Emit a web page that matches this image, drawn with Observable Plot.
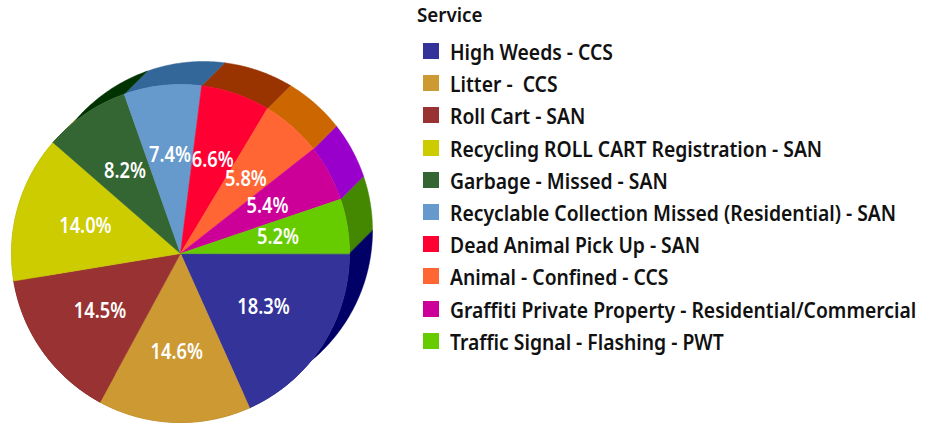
<!DOCTYPE html>
<html>
<head>
<meta charset="utf-8">
<script src="https://cdn.jsdelivr.net/npm/d3@7"></script>
<script src="https://cdn.jsdelivr.net/npm/@observablehq/plot@0.6"></script>
<style>
  html, body { margin: 0; padding: 0; background: #fff; }
  #wrap { position: relative; width: 931px; height: 423px; overflow: hidden; }
  #pie { position: absolute; left: 0; top: 0; }
  #pie svg text { font-family: "Noto Sans", sans-serif; }
  #legend { position: absolute; left: 417px; top: 0; font-family: "Noto Sans", sans-serif; color: #111; }
  #legend .title { font-size: 20px; font-weight: 600; line-height: 20px; margin-top: 5px; height: 30px;
                   transform: scaleX(0.94); transform-origin: 0 50%; }
  #legend .row { display: flex; align-items: center; height: 32.2px; }
  #legend .sw { width: 16px; height: 16px; margin-left: 6px; margin-right: 11px; flex: none; }
  #legend .lab { font-size: 22px; font-weight: 600; white-space: pre; transform: scaleX(0.878); transform-origin: 0 50%; }
</style>
</head>
<body>
<div id="wrap"><div id="pie"></div><div id="legend"></div></div>
<script>
const services = [
  "High Weeds - CCS",
  "Litter -  CCS",
  "Roll Cart - SAN",
  "Recycling ROLL CART Registration - SAN",
  "Garbage - Missed - SAN",
  "Recyclable Collection Missed (Residential) - SAN",
  "Dead Animal Pick Up - SAN",
  "Animal - Confined - CCS",
  "Graffiti Private Property - Residential/Commercial",
  "Traffic Signal - Flashing - PWT"
];
const shares = [18.3, 14.6, 14.5, 14.0, 8.2, 7.4, 6.6, 5.8, 5.4, 5.2];
const labels = ["18.3%", "14.6%", "14.5%", "14.0%", "8.2%", "7.4%", "6.6%", "5.8%", "5.4%", "5.2%"];
const frontColors = ["#333399", "#CC9933", "#993333", "#CCCC00", "#336633", "#6699CC", "#FF0033", "#FF6633", "#CC0099", "#66CC00"];
const sideColors  = ["#000066", "#996600", "#660000", "#999900", "#003300", "#336699", "#993300", "#CC6600", "#9900CC", "#438800"];
const legendTitle = "Service";

// geometry (in units of the pie radius)
const R = 169;                 // radius in px
const cx = 180, cy = 253;      // centre in px
const W = 400, H = 423;
const depth = 23 / R;          // extrusion offset, to the upper right
const labelR = 0.585;

const arcs = d3.pie().sort(null).value(d => d)
  .startAngle(Math.PI / 2).endAngle(Math.PI / 2 + 2 * Math.PI)(shares);

function arcPts(a0, a1, dx, dy) {
  const n = Math.max(2, Math.ceil(Math.abs(a1 - a0) / (Math.PI / 360)));
  const pts = [];
  for (let k = 0; k <= n; k++) {
    const a = a0 + (a1 - a0) * k / n;
    pts.push([Math.sin(a) + dx, Math.cos(a) + dy]);
  }
  return pts;
}

const walls = [], fronts = [], texts = [];
arcs.forEach((a, i) => {
  const f = arcPts(a.startAngle, a.endAngle, 0, 0);
  fronts.push({id: "f" + i, x: 0, y: 0, color: frontColors[i]});
  for (const [x, y] of f) fronts.push({id: "f" + i, x, y, color: frontColors[i]});
  const m = (a.startAngle + a.endAngle) / 2;
  texts.push({x: labelR * Math.sin(m), y: labelR * Math.cos(m), label: labels[i]});
});
// side walls, drawn in reverse order
arcs.slice().reverse().forEach((a) => {
  const i = a.index;
  const f = arcPts(a.startAngle, a.endAngle, 0, 0);
  const b = arcPts(a.endAngle, a.startAngle, depth, depth);
  for (const [x, y] of f.concat(b)) walls.push({id: "w" + i, x, y, color: sideColors[i]});
});

const chart = Plot.plot({
  width: W, height: H,
  margin: 0,
  x: {axis: null, domain: [-cx / R, (W - cx) / R]},
  y: {axis: null, domain: [-(H - cy) / R, cy / R]},
  color: {type: "identity"},
  marks: [
    Plot.line(walls, {x: "x", y: "y", z: "id", fill: "color", stroke: "color", strokeWidth: 0.5, curve: "linear-closed"}),
    Plot.line(fronts, {x: "x", y: "y", z: "id", fill: "color", stroke: "color", strokeWidth: 0.6, curve: "linear-closed"}),
    Plot.text(texts, {x: "x", y: "y", text: "label", fill: "white", fontSize: 21, fontWeight: 600})
  ]
});
// narrow the percentage labels a little, around their own anchor
chart.querySelectorAll("g[aria-label='text'] text").forEach(el => {
  const tr = el.getAttribute("transform");
  if (tr) el.setAttribute("transform", tr + " scale(0.87,1)");
  else {
    const x = el.getAttribute("x") || 0, y = el.getAttribute("y") || 0;
    el.removeAttribute("x"); el.removeAttribute("y");
    el.setAttribute("transform", `translate(${x},${y}) scale(0.87,1)`);
  }
});
document.getElementById("pie").appendChild(chart);

const lg = document.getElementById("legend");
const t = document.createElement("div");
t.className = "title"; t.textContent = legendTitle; lg.appendChild(t);
services.forEach((s, i) => {
  const r = document.createElement("div"); r.className = "row";
  const sw = document.createElement("div"); sw.className = "sw"; sw.style.background = frontColors[i];
  const l = document.createElement("div"); l.className = "lab"; l.textContent = s;
  r.appendChild(sw); r.appendChild(l); lg.appendChild(r);
});
</script>
</body>
</html>
